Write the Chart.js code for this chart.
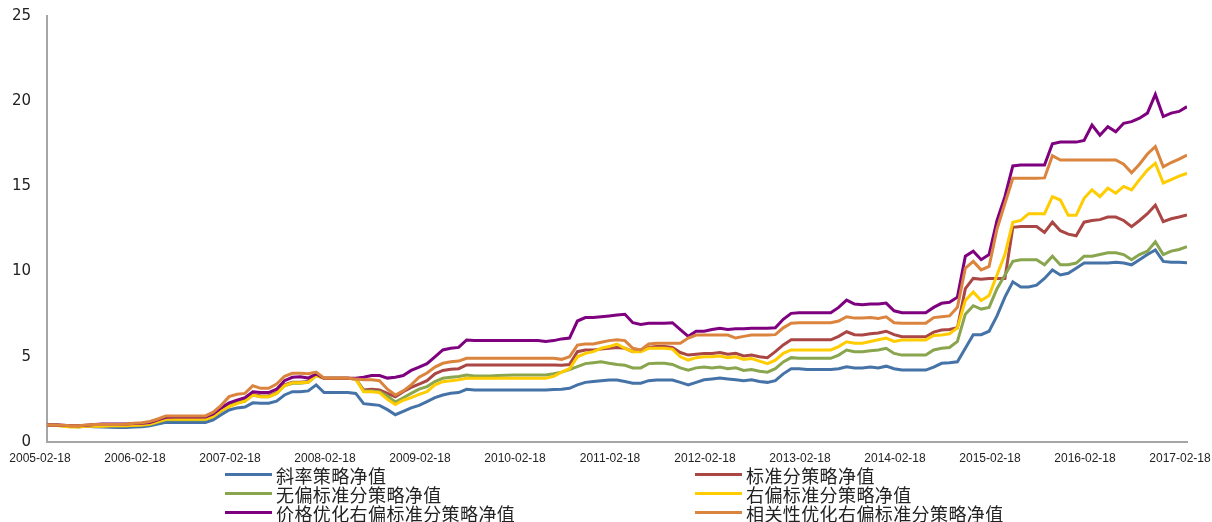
<!DOCTYPE html>
<html>
<head>
<meta charset="utf-8">
<script src="https://cdn.jsdelivr.net/npm/chart.js@4.4.1/dist/chart.umd.min.js"></script>
<style>
    body { margin: 0; background: #fff; }
    #wrap { position: relative; width: 1212px; height: 522px; overflow: hidden; }
    #box { position: absolute; left: 0; top: 0; width: 1212px; height: 470px; }
    .item { position: absolute; height: 19px; display: flex; align-items: center;
            font: 18px "Noto Sans CJK SC", sans-serif; letter-spacing: 0.4px;
            color: #222; white-space: nowrap; }
    .swatch { width: 47px; height: 3px; margin-right: 4px; }
</style>
</head>
<body>
<div id="wrap">
    <div id="box"><canvas id="netValueChart"></canvas></div>
</div>

<script>
/* -------------------------------------------------------------------------- */
/*  DONNÉES (valeurs mensuelles, 2005-02 -> 2017-02)     */
/* -------------------------------------------------------------------------- */

const TICK_LABELS = ['2005-02-18', '2006-02-18', '2007-02-18', '2008-02-18', '2009-02-18',
    '2010-02-18', '2011-02-18', '2012-02-18', '2013-02-18', '2014-02-18',
    '2015-02-18', '2016-02-18', '2017-02-18'];

const SERIES_NAMES = ['斜率策略净值', '标准分策略净值', '无偏标准分策略净值',
    '右偏标准分策略净值', '价格优化右偏标准分策略净值', '相关性优化右偏标准分策略净值'];

const SERIES_COLORS = ['#4572A7', '#AA4643', '#89A54E', '#FFCC00', '#7F007F', '#DB843D'];

const slopeNav = [
    1.0, 1.0, 0.97, 0.93, 0.9, 0.92, 0.9, 0.88, 0.86, 0.85, 0.85, 0.88, 0.9,
    0.95, 1.05, 1.15, 1.15, 1.15, 1.15, 1.15, 1.15, 1.3, 1.6, 1.88, 2.0, 2.05,
    2.3, 2.27, 2.27, 2.4, 2.76, 2.95, 2.95, 3.0, 3.35, 2.9, 2.9, 2.9, 2.9,
    2.85, 2.25, 2.2, 2.15, 1.9, 1.6, 1.8, 2.0, 2.15, 2.37, 2.6, 2.76, 2.86,
    2.9, 3.09, 3.05, 3.05, 3.05, 3.05, 3.05, 3.05, 3.05, 3.05, 3.05, 3.05, 3.08,
    3.1, 3.15, 3.35, 3.5, 3.55, 3.6, 3.64, 3.64, 3.55, 3.45, 3.45, 3.6, 3.64,
    3.64, 3.64, 3.5, 3.35, 3.5, 3.65, 3.7, 3.75, 3.7, 3.65, 3.6, 3.65, 3.55,
    3.5, 3.6, 4.0, 4.3, 4.3, 4.25, 4.25, 4.25, 4.25, 4.3, 4.42, 4.35, 4.35,
    4.4, 4.35, 4.45, 4.3, 4.22, 4.22, 4.22, 4.22, 4.4, 4.62, 4.65, 4.71,
    5.5, 6.3, 6.3, 6.5, 7.4, 8.5, 9.4, 9.1, 9.1, 9.2, 9.6, 10.1, 9.8, 9.9,
    10.2, 10.5, 10.5, 10.5, 10.5, 10.55, 10.5, 10.4, 10.7, 11.0, 11.27, 10.6, 10.55, 10.55, 10.52
];

const zscoreNav = [
    1.0, 1.0, 0.97, 0.94, 0.92, 0.96, 0.98, 0.98, 0.98, 0.97, 0.98, 1.0, 1.02,
    1.05, 1.2, 1.35, 1.38, 1.38, 1.38, 1.38, 1.38, 1.55, 1.9, 2.2, 2.35, 2.45,
    2.8, 2.7, 2.7, 2.9, 3.35, 3.5, 3.5, 3.55, 3.95, 3.74, 3.74, 3.74, 3.74,
    3.7, 3.05, 3.1, 3.05, 2.85, 2.65, 2.95, 3.2, 3.4, 3.6, 4.0, 4.2, 4.27,
    4.3, 4.52, 4.52, 4.52, 4.52, 4.52, 4.52, 4.52, 4.52, 4.52, 4.52, 4.52, 4.52,
    4.5, 4.55, 5.3, 5.4, 5.4, 5.45, 5.5, 5.55, 5.5, 5.3, 5.4, 5.55, 5.6,
    5.6, 5.55, 5.25, 5.1, 5.15, 5.2, 5.2, 5.25, 5.15, 5.2, 5.05, 5.1, 5.0,
    4.95, 5.3, 5.7, 6.0, 6.0, 6.0, 6.0, 6.0, 6.0, 6.2, 6.47, 6.3, 6.28,
    6.35, 6.4, 6.5, 6.3, 6.18, 6.18, 6.18, 6.18, 6.45, 6.57, 6.6, 6.7,
    9.0, 9.6, 9.55, 9.6, 9.6, 9.6, 12.6, 12.64, 12.64, 12.64, 12.3, 12.9, 12.4, 12.2,
    12.1, 12.9, 13.0, 13.05, 13.2, 13.2, 13.0, 12.64, 13.0, 13.4, 13.9, 12.93, 13.1, 13.2, 13.32
];

const unbiasedNav = [
    1.0, 1.0, 0.96, 0.92, 0.9, 0.94, 0.95, 0.95, 0.95, 0.95, 0.95, 0.98, 1.0,
    1.03, 1.15, 1.3, 1.3, 1.3, 1.3, 1.3, 1.3, 1.48, 1.8, 2.1, 2.3, 2.4,
    2.75, 2.65, 2.65, 2.85, 3.3, 3.45, 3.45, 3.5, 3.9, 3.74, 3.74, 3.74, 3.74,
    3.7, 3.0, 3.0, 2.95, 2.7, 2.35, 2.6, 2.85, 3.1, 3.25, 3.55, 3.74, 3.8,
    3.85, 3.93, 3.88, 3.88, 3.88, 3.9, 3.92, 3.93, 3.93, 3.93, 3.93, 3.93, 4.0,
    4.1, 4.25, 4.42, 4.6, 4.65, 4.71, 4.62, 4.55, 4.5, 4.35, 4.35, 4.6, 4.62,
    4.62, 4.55, 4.35, 4.22, 4.35, 4.4, 4.35, 4.4, 4.3, 4.35, 4.2, 4.25, 4.15,
    4.1, 4.3, 4.7, 4.95, 4.91, 4.91, 4.91, 4.91, 4.91, 5.1, 5.4, 5.3, 5.3,
    5.35, 5.4, 5.5, 5.2, 5.1, 5.1, 5.1, 5.1, 5.4, 5.5, 5.55, 5.9,
    7.5, 8.0, 7.8, 7.9, 9.0, 9.8, 10.6, 10.7, 10.7, 10.7, 10.4, 10.9, 10.4, 10.4,
    10.5, 10.9, 10.9, 11.0, 11.1, 11.1, 11.0, 10.7, 11.0, 11.2, 11.75, 11.0, 11.2, 11.3, 11.46
];

const rightSkewNav = [
    1.0, 0.98, 0.93, 0.88, 0.88, 0.92, 0.93, 0.93, 0.95, 0.95, 0.96, 0.98, 1.0,
    1.05, 1.2, 1.33, 1.33, 1.33, 1.33, 1.33, 1.33, 1.5, 1.85, 2.07, 2.25, 2.4,
    2.75, 2.65, 2.65, 2.85, 3.3, 3.48, 3.48, 3.5, 3.9, 3.74, 3.74, 3.74, 3.74,
    3.7, 2.95, 2.95, 2.9, 2.5, 2.2, 2.45, 2.6, 2.8, 2.95, 3.35, 3.54, 3.6,
    3.65, 3.74, 3.74, 3.74, 3.74, 3.74, 3.74, 3.74, 3.74, 3.74, 3.74, 3.74, 3.85,
    4.1, 4.3, 5.0, 5.2, 5.3, 5.5, 5.6, 5.75, 5.5, 5.3, 5.3, 5.5, 5.5,
    5.5, 5.45, 5.0, 4.81, 4.95, 5.0, 5.0, 5.05, 4.95, 5.0, 4.85, 4.9, 4.75,
    4.6, 4.8, 5.2, 5.4, 5.4, 5.4, 5.4, 5.4, 5.4, 5.6, 5.88, 5.8, 5.8,
    5.9, 6.0, 6.1, 5.9, 5.99, 5.99, 5.99, 5.99, 6.25, 6.28, 6.35, 6.7,
    8.3, 8.8, 8.3, 8.6, 9.8, 11.0, 12.9, 13.0, 13.4, 13.4, 13.4, 14.4, 14.2, 13.3,
    13.3, 14.3, 14.8, 14.4, 14.9, 14.6, 15.0, 14.8, 15.4, 15.96, 16.36, 15.2, 15.4, 15.6, 15.77
];

const priceOptNav = [
    1.0, 1.0, 0.98, 0.95, 0.95, 0.98, 1.02, 1.05, 1.05, 1.05, 1.06, 1.08, 1.1,
    1.15, 1.3, 1.45, 1.47, 1.47, 1.47, 1.47, 1.47, 1.65, 2.0, 2.3, 2.46, 2.6,
    2.95, 2.9, 2.9, 3.1, 3.6, 3.8, 3.83, 3.75, 4.0, 3.74, 3.74, 3.74, 3.74,
    3.74, 3.8, 3.9, 3.9, 3.75, 3.8, 3.9, 4.2, 4.4, 4.6, 5.0, 5.4, 5.5,
    5.55, 5.99, 5.95, 5.95, 5.95, 5.95, 5.95, 5.95, 5.95, 5.95, 5.95, 5.9, 5.95,
    6.05, 6.1, 7.1, 7.3, 7.3, 7.35, 7.4, 7.45, 7.5, 7.0, 6.9, 6.97, 6.97,
    6.97, 7.0, 6.6, 6.2, 6.5, 6.5, 6.6, 6.67, 6.6, 6.65, 6.65, 6.67, 6.67,
    6.67, 6.7, 7.2, 7.55, 7.59, 7.59, 7.59, 7.59, 7.59, 7.9, 8.33, 8.1, 8.05,
    8.1, 8.1, 8.15, 7.7, 7.59, 7.59, 7.59, 7.59, 7.9, 8.14, 8.2, 8.5,
    10.9, 11.2, 10.7, 11.0, 13.0, 14.4, 16.2, 16.26, 16.26, 16.26, 16.26, 17.5, 17.6, 17.6,
    17.6, 17.7, 18.6, 18.0, 18.5, 18.2, 18.7, 18.8, 19.0, 19.3, 20.4, 19.1, 19.3, 19.4, 19.68
];

const corrOptNav = [
    1.0, 1.0, 0.98, 0.95, 0.95, 1.0, 1.02, 1.03, 1.02, 1.02, 1.05, 1.1, 1.13,
    1.2, 1.35, 1.52, 1.53, 1.53, 1.53, 1.53, 1.53, 1.75, 2.15, 2.66, 2.8, 2.85,
    3.3, 3.15, 3.15, 3.4, 3.85, 4.03, 4.03, 4.0, 4.1, 3.74, 3.74, 3.74, 3.74,
    3.7, 3.65, 3.65, 3.6, 3.1, 2.76, 3.0, 3.35, 3.8, 4.05, 4.4, 4.62, 4.71,
    4.75, 4.91, 4.91, 4.91, 4.91, 4.91, 4.91, 4.91, 4.91, 4.91, 4.91, 4.91, 4.91,
    4.85, 5.0, 5.69, 5.75, 5.75, 5.85, 5.95, 6.0, 5.95, 5.5, 5.4, 5.75, 5.8,
    5.8, 5.8, 5.8, 6.1, 6.28, 6.28, 6.28, 6.28, 6.28, 6.1, 6.2, 6.28, 6.28,
    6.28, 6.3, 6.7, 6.97, 7.0, 7.0, 7.0, 7.0, 7.0, 7.1, 7.35, 7.27, 7.27,
    7.3, 7.25, 7.35, 7.0, 6.97, 6.97, 6.97, 6.97, 7.3, 7.35, 7.4, 7.9,
    10.2, 10.6, 10.1, 10.3, 12.5, 14.0, 15.48, 15.48, 15.48, 15.48, 15.5, 16.8, 16.55, 16.55,
    16.55, 16.55, 16.55, 16.55, 16.55, 16.55, 16.3, 15.8, 16.3, 16.9, 17.33, 16.15, 16.4, 16.6, 16.84
];

const SERIES_VALUES = [slopeNav, zscoreNav, unbiasedNav, rightSkewNav, priceOptNav, corrOptNav];

/* -------------------------------------------------------------------------- */
/*  GRAPHIQUE                                                                 */
/* -------------------------------------------------------------------------- */

const datasets = SERIES_VALUES.map((values, i) => ({
    label: SERIES_NAMES[i],
    data: values.map((v, m) => ({ x: m, y: v })),   // x = mois depuis 2005-02-18
    borderColor: SERIES_COLORS[i],
    backgroundColor: SERIES_COLORS[i],
    borderWidth: 3,
    pointRadius: 0,
    tension: 0,
    order: SERIES_VALUES.length - i   // la dernière série dessinée au-dessus
}));

new Chart(document.getElementById('netValueChart'), {
    type: 'line',
    data: { datasets },
    options: {
        responsive: true,
        maintainAspectRatio: false,
        animation: false,
        layout: { padding: { top: 16, right: 25, left: 0, bottom: 0 } },
        plugins: {
            legend: { display: false },
            tooltip: { enabled: false }
        },
        scales: {
            x: {
                type: 'linear',
                min: 0,
                max: 144,
                grid: { display: false, drawTicks: false },
                border: { display: true, color: '#A6A6A6', width: 2 },
                ticks: {
                    stepSize: 12,
                    padding: 9,
                    labelOffset: -7,
                    maxRotation: 0,
                    autoSkip: false,
                    color: '#222',
                    font: { family: '"Liberation Sans Narrow", "Liberation Sans", sans-serif', size: 12 },
                    callback: v => TICK_LABELS[v / 12]
                },
                afterFit: scale => {
                    scale.height = 28;
                    scale.paddingLeft = 0;
                    scale.paddingRight = 0;
                }
            },
            y: {
                min: 0,
                max: 25,
                grid: { display: false, drawTicks: false },
                border: { display: true, color: '#A6A6A6', width: 2 },
                ticks: {
                    stepSize: 5,
                    padding: 16,
                    color: '#222',
                    font: { family: '"DejaVu Sans", sans-serif', size: 15 }
                },
                afterFit: scale => {
                    scale.width = 47;
                    scale.paddingTop = 0;
                    scale.paddingBottom = 0;
                }
            }
        }
    }
});

/* -------------------------------------------------------------------------- */
/*  LÉGENDE (2 colonnes x 3 lignes)                                           */
/* -------------------------------------------------------------------------- */

const wrap = document.getElementById('wrap');
const colLeft = [225, 695];
const rowTop = [465, 484, 503];

SERIES_NAMES.forEach((name, i) => {
    const item = document.createElement('div');
    item.className = 'item';
    item.style.left = colLeft[i % 2] + 'px';
    item.style.top = rowTop[Math.floor(i / 2)] + 'px';
    const sw = document.createElement('span');
    sw.className = 'swatch';
    sw.style.background = SERIES_COLORS[i];
    item.appendChild(sw);
    item.appendChild(document.createTextNode(name));
    wrap.appendChild(item);
});
</script>
</body>
</html>
